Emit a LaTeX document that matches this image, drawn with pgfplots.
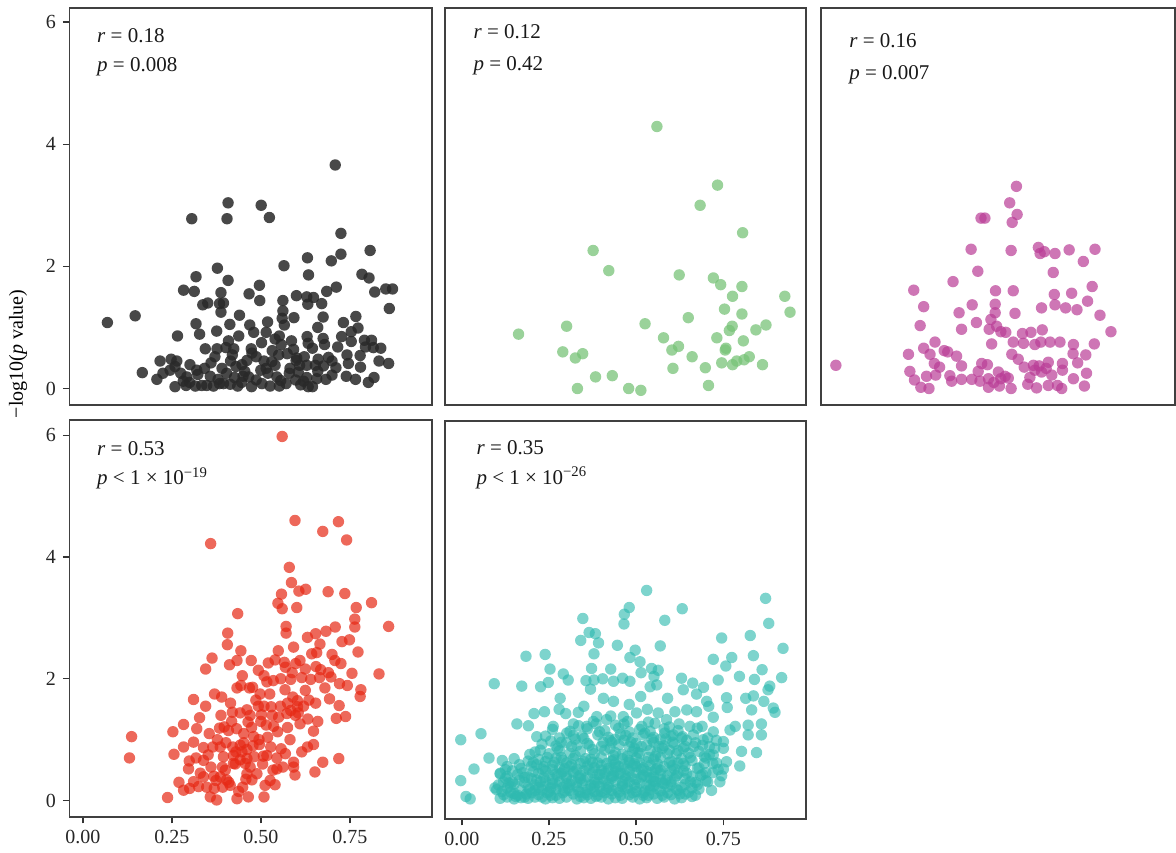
\documentclass[border=0pt]{standalone}
\usepackage{fontspec}
\setmainfont{Liberation Serif}
\usepackage{pgfplots}
\pgfplotsset{compat=1.18}
\definecolor{cBlack}{RGB}{40,40,40}
\definecolor{cGreen}{RGB}{120,195,120}
\definecolor{cMag}{RGB}{185,60,150}
\definecolor{cRed}{RGB}{230,40,20}
\definecolor{cTeal}{RGB}{45,185,175}
\tikzset{ann/.style={anchor=west, font=\fontsize{10.5}{12}\selectfont, text=black!90, inner sep=0pt}}
\pgfplotsset{
  panel/.style={
    scale only axis, anchor=south west,
    axis line style={draw=black!75, line width=0.8pt},
    tick style={draw=black!80, line width=0.7pt},
    tick align=outside, major tick length=3.2pt, tick pos=left,
    xtick=\empty, ytick=\empty,
    ymin=-0.27, ymax=6.23,
    /pgf/number format/assume math mode=true,
    ticklabel style={font=\fontsize{10}{12}\selectfont, text=black!85},
    clip=true,
  },
  dots/.style 2 args={only marks, mark=*, mark size=2.85pt, color=#1,
    mark options={draw opacity=0, fill=#1, fill opacity=#2}},
}
\begin{document}
\begin{tikzpicture}
\useasboundingbox (0,0) rectangle (588pt,426pt);
\node[rotate=90, font=\fontsize{10}{12}\selectfont] at (9pt,249pt) {\char"2212 log10(\textit{p} value)};

% Panel 1 (black)
\begin{axis}[panel, at={(34.65pt,223.5pt)}, width=181.2pt, height=198.5pt,
  xmin=-0.038, xmax=0.980, ytick={0,2,4,6}]
\addplot[dots={cBlack}{0.85}] coordinates {
(0.709,3.66)(0.408,3.04)(0.501,3.00)(0.306,2.78)(0.405,2.78)(0.524,2.80)(0.725,2.54)(0.807,2.26)(0.725,2.20)(0.698,2.09)
(0.631,2.14)(0.565,2.01)(0.378,1.97)(0.318,1.83)(0.408,1.77)(0.634,1.86)(0.784,1.87)(0.804,1.81)(0.496,1.69)(0.283,1.61)
(0.313,1.59)(0.712,1.66)(0.685,1.59)(0.820,1.58)(0.851,1.63)(0.870,1.63)(0.861,1.31)(0.069,1.08)(0.147,1.19)(0.388,1.57)
(0.467,1.55)(0.497,1.44)(0.337,1.37)(0.351,1.40)(0.384,1.39)(0.395,1.40)(0.388,1.25)(0.562,1.44)(0.600,1.52)(0.629,1.50)
(0.632,1.38)(0.648,1.49)(0.671,1.39)(0.562,1.27)(0.593,1.16)(0.675,1.17)(0.767,1.18)(0.732,1.08)(0.773,0.99)(0.754,0.93)
(0.660,1.00)(0.566,1.04)(0.519,1.09)(0.469,1.04)(0.413,1.05)(0.318,1.06)(0.328,0.89)(0.376,0.94)(0.266,0.86)(0.438,0.86)
(0.515,0.92)(0.540,0.81)(0.552,0.86)(0.586,0.78)(0.630,0.85)(0.675,0.82)(0.727,0.85)(0.754,0.77)(0.791,0.79)(0.811,0.79)
(0.409,0.78)(0.344,0.65)(0.377,0.65)(0.402,0.67)(0.424,0.65)(0.473,0.65)(0.502,0.75)(0.557,0.72)(0.633,0.74)(0.645,0.66)
(0.679,0.72)(0.794,0.68)(0.816,0.67)(0.837,0.66)(0.779,0.54)(0.690,0.51)(0.601,0.50)(0.574,0.57)(0.550,0.55)(0.475,0.58)
(0.371,0.52)(0.217,0.45)(0.248,0.48)(0.264,0.45)(0.301,0.39)(0.167,0.26)(0.208,0.15)(0.225,0.25)(0.245,0.30)(0.259,0.36)
(0.275,0.25)(0.259,0.03)(0.290,0.05)(0.292,0.19)(0.323,0.23)(0.342,0.33)(0.358,0.20)(0.334,0.05)(0.348,0.05)(0.384,0.08)
(0.395,0.08)(0.414,0.07)(0.435,0.04)(0.474,0.03)(0.503,0.08)(0.526,0.04)(0.552,0.04)(0.391,0.33)(0.404,0.25)(0.430,0.36)
(0.447,0.39)(0.461,0.46)(0.466,0.19)(0.509,0.45)(0.531,0.44)(0.515,0.33)(0.545,0.19)(0.556,0.13)(0.582,0.33)(0.599,0.46)
(0.609,0.38)(0.629,0.38)(0.653,0.38)(0.676,0.37)(0.711,0.34)(0.746,0.41)(0.832,0.45)(0.859,0.41)(0.598,0.14)(0.629,0.18)
(0.633,0.03)(0.645,0.03)(0.657,0.16)(0.683,0.15)(0.766,0.15)(0.802,0.10)(0.818,0.18)(0.316,0.04)(0.367,0.04)(0.426,0.18)
(0.455,0.28)(0.487,0.52)(0.532,0.62)(0.592,0.64)(0.605,0.27)(0.622,0.52)(0.700,0.22)(0.742,0.55)(0.360,0.42)(0.282,0.12)
(0.446,0.10)(0.487,0.14)(0.571,0.08)(0.612,0.06)(0.661,0.48)(0.716,0.68)(0.520,0.25)(0.415,0.45)
(0.30,0.10)(0.32,0.30)(0.38,0.15)(0.42,0.55)(0.45,0.20)(0.50,0.30)(0.54,0.38)(0.58,0.25)(0.62,0.12)(0.66,0.28)
(0.70,0.45)(0.74,0.20)(0.78,0.35)(0.48,0.92)(0.56,1.15)(0.44,1.20)
};
\node[ann] at (rel axis cs:0.076,0.931) {\textit{r} = 0.18};
\node[ann] at (rel axis cs:0.076,0.851) {\textit{p} = 0.008};
\end{axis}

% Panel 2 (green)
\begin{axis}[panel, at={(222.5pt,223.5pt)}, width=180.35pt, height=198.5pt,
  xmin=-0.049, xmax=0.986]
\addplot[dots={cGreen}{0.75}] coordinates {
(0.559,4.29)(0.733,3.33)(0.683,3.00)(0.805,2.55)(0.376,2.26)(0.421,1.93)(0.623,1.86)(0.721,1.81)(0.742,1.70)(0.803,1.67)
(0.776,1.51)(0.926,1.51)(0.753,1.30)(0.803,1.22)(0.941,1.25)(0.649,1.16)(0.525,1.06)(0.300,1.02)(0.162,0.89)(0.775,1.02)
(0.767,0.95)(0.872,1.04)(0.843,0.96)(0.578,0.83)(0.731,0.83)(0.807,0.78)(0.621,0.69)(0.602,0.63)(0.755,0.63)(0.289,0.60)
(0.325,0.50)(0.346,0.57)(0.660,0.52)(0.745,0.42)(0.776,0.39)(0.788,0.45)(0.809,0.47)(0.824,0.52)(0.862,0.39)(0.605,0.33)
(0.698,0.34)(0.383,0.19)(0.431,0.21)(0.707,0.05)(0.331,0.00)(0.478,0.00)(0.513,-0.03)(0.757,0.66)
};
\node[ann] at (rel axis cs:0.078,0.940) {\textit{r} = 0.12};
\node[ann] at (rel axis cs:0.078,0.855) {\textit{p} = 0.42};
\end{axis}

% Panel 3 (magenta)
\begin{axis}[panel, at={(410.5pt,223.5pt)}, width=177pt, height=198.5pt,
  xmin=0, xmax=1]
\addplot[dots={cMag}{0.7}] coordinates {
(0.552,3.31)(0.533,3.04)(0.554,2.85)(0.452,2.79)(0.463,2.79)(0.540,2.72)(0.424,2.28)(0.537,2.26)(0.614,2.31)(0.619,2.21)
(0.631,2.24)(0.661,2.21)(0.701,2.27)(0.774,2.28)(0.741,2.08)(0.443,1.92)(0.656,1.90)(0.373,1.75)(0.262,1.61)(0.493,1.60)
(0.543,1.60)(0.659,1.54)(0.708,1.56)(0.766,1.67)(0.753,1.43)(0.427,1.37)(0.492,1.38)(0.661,1.37)(0.691,1.32)(0.723,1.29)
(0.623,1.32)(0.290,1.34)(0.390,1.24)(0.492,1.24)(0.548,1.23)(0.788,1.20)(0.480,1.13)(0.439,1.08)(0.280,1.03)(0.397,0.97)
(0.475,0.97)(0.496,1.02)(0.508,0.93)(0.522,0.92)(0.569,0.90)(0.593,0.92)(0.625,0.96)(0.819,0.93)(0.322,0.76)(0.290,0.66)
(0.247,0.56)(0.308,0.56)(0.348,0.62)(0.358,0.60)(0.383,0.53)(0.482,0.73)(0.543,0.76)(0.572,0.74)(0.604,0.72)(0.621,0.76)
(0.647,0.76)(0.675,0.76)(0.713,0.72)(0.772,0.73)(0.712,0.57)(0.748,0.55)(0.539,0.56)(0.557,0.48)(0.042,0.38)(0.320,0.41)
(0.397,0.37)(0.454,0.41)(0.470,0.39)(0.574,0.35)(0.600,0.38)(0.616,0.37)(0.642,0.43)(0.682,0.41)(0.725,0.42)(0.251,0.28)
(0.298,0.20)(0.324,0.22)(0.364,0.21)(0.397,0.15)(0.444,0.28)(0.449,0.12)(0.473,0.16)(0.501,0.27)(0.508,0.16)(0.529,0.17)
(0.604,0.30)(0.623,0.27)(0.652,0.22)(0.682,0.30)(0.713,0.16)(0.750,0.25)(0.264,0.14)(0.282,0.02)(0.305,0.00)(0.369,0.12)
(0.473,0.02)(0.504,0.04)(0.537,0.00)(0.584,0.07)(0.609,0.01)(0.642,0.05)(0.668,0.05)(0.680,0.00)(0.744,0.04)(0.426,0.15)
(0.335,0.35)(0.520,0.20)(0.488,0.10)(0.590,0.18)(0.636,0.33)
};
\node[ann] at (rel axis cs:0.079,0.918) {\textit{r} = 0.16};
\node[ann] at (rel axis cs:0.079,0.832) {\textit{p} = 0.007};
\end{axis}

% Panel 4 (red)
\begin{axis}[panel, at={(34.65pt,17.5pt)}, width=181.2pt, height=198.5pt,
  xmin=-0.038, xmax=0.980, ymax=6.25, ytick={0,2,4,6},
  xtick={0,0.25,0.5,0.75}, xticklabels={0.00,0.25,0.50,0.75}]
\addplot[dots={cRed}{0.7}] coordinates {
(0.560,5.98)(0.359,4.22)(0.596,4.60)(0.718,4.58)(0.674,4.42)(0.741,4.28)(0.580,3.83)(0.586,3.58)(0.558,3.39)(0.607,3.44)
(0.626,3.47)(0.689,3.43)(0.736,3.40)(0.548,3.24)(0.560,3.15)(0.601,3.17)(0.768,3.17)(0.811,3.25)(0.435,3.07)(0.764,2.98)
(0.764,2.85)(0.859,2.86)(0.571,2.86)(0.571,2.75)(0.407,2.75)(0.709,2.85)(0.683,2.78)(0.654,2.74)(0.631,2.68)(0.666,2.57)
(0.728,2.61)(0.749,2.64)(0.406,2.56)(0.444,2.46)(0.549,2.46)(0.592,2.52)(0.363,2.34)(0.433,2.30)(0.473,2.30)(0.412,2.23)
(0.345,2.16)(0.521,2.26)(0.540,2.31)(0.566,2.27)(0.610,2.30)(0.643,2.41)(0.657,2.43)(0.708,2.30)(0.773,2.44)(0.569,2.19)
(0.625,2.16)(0.668,2.15)(0.493,2.14)(0.509,2.05)(0.517,1.95)(0.535,1.97)(0.556,2.00)(0.584,1.99)(0.615,2.02)(0.640,1.99)
(0.665,2.02)(0.697,2.03)(0.756,2.09)(0.832,2.08)(0.444,1.89)(0.433,1.85)(0.477,1.86)(0.498,1.75)(0.568,1.82)(0.625,1.81)
(0.721,1.92)(0.743,1.89)(0.781,1.82)(0.779,1.71)(0.370,1.75)(0.311,1.66)(0.415,1.60)(0.461,1.49)(0.493,1.55)(0.509,1.55)
(0.529,1.54)(0.603,1.64)(0.603,1.54)(0.584,1.48)(0.573,1.43)(0.654,1.60)(0.693,1.67)(0.720,1.56)(0.738,1.38)(0.420,1.45)
(0.442,1.44)(0.470,1.40)(0.502,1.41)(0.550,1.37)(0.597,1.40)(0.605,1.44)(0.632,1.34)(0.328,1.36)(0.388,1.40)(0.283,1.25)
(0.320,1.18)(0.384,1.19)(0.397,1.21)(0.409,1.15)(0.432,1.18)(0.464,1.29)(0.474,1.20)(0.515,1.24)(0.536,1.22)(0.547,1.13)
(0.610,1.26)(0.648,1.14)(0.253,1.13)(0.137,1.05)(0.131,0.70)(0.355,1.10)(0.311,0.96)(0.339,0.87)(0.283,0.88)(0.256,0.76)
(0.365,0.88)(0.386,0.88)(0.421,0.88)(0.442,0.91)(0.447,0.80)(0.461,0.84)(0.496,0.92)(0.519,1.04)(0.528,0.88)(0.557,0.85)
(0.631,0.88)(0.648,0.92)(0.395,0.72)(0.339,0.66)(0.299,0.65)(0.423,0.74)(0.442,0.67)(0.461,0.69)(0.507,0.73)(0.481,0.72)
(0.517,0.74)(0.569,0.77)(0.592,0.63)(0.674,0.63)(0.719,0.69)(0.297,0.52)(0.400,0.50)(0.423,0.61)(0.456,0.61)(0.461,0.44)
(0.489,0.44)(0.534,0.50)(0.545,0.52)(0.592,0.55)(0.596,0.42)(0.652,0.47)(0.526,0.33)(0.540,0.26)(0.475,0.34)(0.404,0.34)
(0.386,0.39)(0.374,0.33)(0.311,0.31)(0.339,0.39)(0.283,0.17)(0.325,0.23)(0.348,0.22)(0.358,0.06)(0.376,0.01)(0.369,0.20)
(0.393,0.22)(0.414,0.25)(0.449,0.22)(0.465,0.06)(0.433,0.03)(0.509,0.06)(0.238,0.05)(0.430,0.80)(0.452,0.95)(0.480,1.05)
(0.500,1.30)(0.575,1.60)(0.590,1.70)(0.360,0.55)(0.410,0.30)(0.470,0.55)
(0.330,0.45)(0.352,0.75)(0.378,1.00)(0.392,0.55)(0.418,1.30)(0.438,0.15)(0.452,1.10)(0.478,0.90)(0.486,1.65)(0.505,0.60)
(0.525,1.75)(0.545,0.70)(0.555,1.55)(0.575,1.20)(0.588,2.10)(0.615,0.80)(0.635,1.65)(0.655,2.20)(0.680,1.85)(0.700,2.40)
(0.712,1.35)(0.300,0.20)(0.318,0.70)(0.345,1.55)(0.368,0.40)(0.402,0.95)(0.428,0.60)(0.458,0.35)(0.468,1.85)(0.495,1.00)
(0.512,0.25)(0.532,1.40)(0.562,0.55)(0.582,1.00)(0.598,2.25)(0.620,1.55)(0.660,1.30)(0.690,2.10)(0.725,2.25)(0.270,0.30)
(0.448,2.05)(0.390,1.70)
};
\node[ann] at (rel axis cs:0.076,0.927) {\textit{r} = 0.53};
\node[ann] at (rel axis cs:0.076,0.853) {\textit{p} < 1 × 10\textsuperscript{\char"2212 19}};
\end{axis}

% Panel 5 (teal)
\begin{axis}[panel, at={(222.35pt,16.5pt)}, width=180.5pt, height=199pt,
  xmin=-0.049, xmax=0.986, ymin=-0.31, ymax=6.22,
  xtick={0,0.25,0.5,0.75}, xticklabels={0.00,0.25,0.50,0.75}]
\addplot[dots={cTeal}{0.62}] coordinates {
(0.530,3.44)(0.871,3.31)(0.632,3.14)(0.480,3.16)(0.466,3.05)(0.347,2.98)(0.465,2.89)(0.582,2.95)(0.880,2.90)(0.365,2.75)
(0.383,2.73)(0.341,2.62)(0.392,2.58)(0.446,2.54)(0.569,2.53)(0.745,2.66)(0.827,2.70)(0.921,2.49)(0.497,2.46)(0.379,2.40)
(0.482,2.34)(0.511,2.27)(0.184,2.36)(0.239,2.39)(0.721,2.31)(0.774,2.34)(0.836,2.37)(0.757,2.20)(0.253,2.15)(0.372,2.16)
(0.427,2.15)(0.544,2.16)(0.563,2.13)(0.861,2.14)(0.291,2.07)(0.461,2.00)(0.514,2.09)(0.796,2.03)(0.917,2.01)(0.093,1.91)
(0.172,1.87)(0.226,1.86)(0.248,1.93)(0.305,1.97)(0.356,1.96)(0.379,1.97)(0.404,1.99)(0.435,1.95)(0.482,1.95)(0.551,2.03)
(0.559,1.89)(0.630,2.00)(0.662,1.92)(0.693,1.85)(0.735,1.97)(0.839,1.98)(0.883,1.87)(0.878,1.81)(0.282,1.67)(0.369,1.82)
(0.406,1.67)(0.435,1.62)(0.480,1.57)(0.513,1.70)(0.540,1.86)(0.590,1.67)(0.635,1.81)(0.673,1.74)(0.702,1.62)(0.759,1.68)
(0.814,1.67)(0.836,1.71)(0.866,1.62)(0.893,1.51)(0.898,1.44)(0.207,1.42)(0.237,1.45)(0.279,1.49)(0.298,1.42)(0.334,1.44)
(0.350,1.54)(0.387,1.37)(0.427,1.38)(0.463,1.37)(0.501,1.43)(0.532,1.49)(0.563,1.43)(0.611,1.45)(0.645,1.48)(0.673,1.45)
(0.708,1.54)(0.721,1.36)(0.761,1.52)(0.831,1.48)(0.158,1.25)(0.191,1.22)(-0.003,0.99)(0.055,1.09)(0.078,0.69)(0.035,0.51)
(-0.003,0.32)(0.012,0.06)(0.024,0.02)(0.095,0.20)(0.116,0.65)(0.215,1.04)(0.262,1.21)(0.301,1.10)(0.320,1.25)(0.358,1.21)
(0.377,1.29)(0.415,1.32)(0.441,1.23)(0.475,1.29)(0.516,1.21)(0.554,1.26)(0.587,1.32)(0.623,1.25)(0.654,1.21)(0.689,1.21)
(0.721,1.12)(0.750,0.96)(0.769,1.15)(0.784,1.21)(0.821,1.23)(0.859,1.25)(0.821,1.07)(0.859,1.07)(0.845,0.78)(0.802,0.80)
(0.759,0.63)(0.797,0.56)(0.745,0.40)(0.716,0.16)(0.750,0.51)(0.730,0.61)(0.721,0.74)(0.710,0.88)(0.692,0.99)(0.664,1.07)
(0.633,1.04)(0.606,1.07)(0.582,1.10)(0.110,0.44)
(0.11,0.03)(0.13,0.05)(0.15,0.02)(0.17,0.04)(0.19,0.03)(0.21,0.05)(0.24,0.02)(0.26,0.04)(0.28,0.03)(0.30,0.05)
(0.33,0.02)(0.35,0.04)(0.37,0.03)(0.40,0.05)(0.42,0.02)(0.44,0.04)(0.46,0.03)(0.49,0.05)(0.51,0.02)(0.53,0.04)
(0.56,0.03)(0.58,0.05)(0.61,0.02)(0.63,0.04)(0.66,0.06)
(0.10,0.17)(0.14,0.13)(0.17,0.16)(0.20,0.12)(0.23,0.17)(0.25,0.14)(0.27,0.18)(0.29,0.12)(0.31,0.16)(0.34,0.13)
(0.36,0.17)(0.38,0.14)(0.41,0.12)(0.43,0.16)(0.45,0.13)(0.47,0.18)(0.50,0.14)(0.52,0.12)(0.54,0.17)(0.57,0.15)
(0.59,0.12)(0.62,0.16)(0.65,0.13)(0.68,0.18)
(0.12,0.30)(0.15,0.26)(0.18,0.29)(0.21,0.25)(0.24,0.31)(0.26,0.27)(0.28,0.30)(0.31,0.26)(0.33,0.29)(0.35,0.32)
(0.37,0.25)(0.39,0.29)(0.42,0.27)(0.44,0.31)(0.46,0.26)(0.48,0.30)(0.51,0.28)(0.53,0.25)(0.55,0.31)(0.58,0.27)
(0.60,0.30)(0.64,0.26)(0.67,0.29)(0.70,0.32)
(0.11,0.43)(0.13,0.39)(0.16,0.42)(0.19,0.38)(0.22,0.44)(0.25,0.40)(0.27,0.43)(0.30,0.39)(0.32,0.45)(0.34,0.41)
(0.36,0.38)(0.39,0.42)(0.41,0.44)(0.43,0.39)(0.45,0.43)(0.47,0.40)(0.50,0.45)(0.52,0.41)(0.55,0.38)(0.57,0.43)
(0.59,0.40)(0.62,0.44)(0.66,0.39)(0.69,0.42)(0.72,0.45)
(0.13,0.55)(0.17,0.52)(0.20,0.56)(0.23,0.51)(0.26,0.57)(0.28,0.53)(0.31,0.55)(0.33,0.51)(0.36,0.56)(0.38,0.53)
(0.40,0.57)(0.42,0.52)(0.45,0.55)(0.47,0.51)(0.49,0.56)(0.52,0.53)(0.54,0.57)(0.56,0.52)(0.58,0.55)(0.61,0.51)
(0.64,0.56)(0.68,0.53)
(0.15,0.68)(0.19,0.64)(0.22,0.67)(0.24,0.63)(0.27,0.69)(0.29,0.65)(0.32,0.68)(0.35,0.63)(0.37,0.67)(0.40,0.70)
(0.43,0.64)(0.46,0.68)(0.48,0.65)(0.50,0.69)(0.53,0.63)(0.55,0.67)(0.57,0.70)(0.60,0.64)(0.63,0.68)(0.66,0.65)
(0.70,0.69)
(0.21,0.79)(0.25,0.76)(0.28,0.81)(0.31,0.77)(0.34,0.80)(0.38,0.76)(0.41,0.82)(0.44,0.78)(0.46,0.75)(0.49,0.80)
(0.51,0.77)(0.54,0.82)(0.56,0.78)(0.59,0.76)(0.62,0.81)(0.65,0.77)(0.68,0.80)
(0.23,0.92)(0.27,0.89)(0.30,0.94)(0.33,0.90)(0.36,0.93)(0.40,0.88)(0.43,0.95)(0.45,0.91)(0.48,0.88)(0.50,0.93)
(0.53,0.90)(0.55,0.95)(0.58,0.89)(0.61,0.92)(0.64,0.88)(0.67,0.94)
(0.24,1.05)(0.28,1.02)(0.32,1.06)(0.35,1.01)(0.39,1.07)(0.42,1.03)(0.44,1.00)(0.47,1.06)(0.49,1.02)(0.52,1.07)
(0.55,1.03)(0.57,1.00)(0.60,1.05)(0.63,1.02)
(0.26,1.16)(0.31,1.13)(0.36,1.17)(0.41,1.14)(0.45,1.18)(0.48,1.12)(0.51,1.16)(0.54,1.13)(0.58,1.17)(0.62,1.14)
(0.12,0.09)(0.16,0.08)(0.22,0.09)(0.27,0.08)(0.32,0.10)(0.36,0.09)(0.39,0.08)(0.43,0.10)(0.48,0.09)(0.52,0.08)
(0.55,0.10)(0.60,0.09)(0.64,0.10)
(0.14,0.22)(0.19,0.21)(0.24,0.23)(0.29,0.21)(0.33,0.22)(0.38,0.23)(0.42,0.21)(0.46,0.22)(0.50,0.21)(0.55,0.23)
(0.59,0.22)(0.63,0.21)
(0.20,0.35)(0.26,0.34)(0.30,0.36)(0.34,0.35)(0.38,0.34)(0.43,0.36)(0.47,0.35)(0.50,0.34)(0.54,0.36)(0.57,0.34)
(0.61,0.35)
(0.24,0.48)(0.29,0.47)(0.35,0.48)(0.40,0.49)(0.44,0.47)(0.48,0.48)(0.53,0.47)(0.57,0.49)(0.60,0.48)
(0.30,0.61)(0.34,0.60)(0.39,0.61)(0.44,0.60)(0.51,0.61)(0.56,0.60)(0.62,0.61)
(0.66,0.20)(0.70,0.45)(0.72,0.60)(0.69,0.90)(0.73,0.98)(0.74,0.30)(0.71,0.75)(0.75,0.85)
(0.105,0.25)(0.125,0.36)(0.145,0.48)(0.165,0.33)(0.185,0.10)(0.205,0.47)(0.225,0.30)(0.245,0.12)(0.265,0.62)(0.285,0.44)
(0.305,0.20)(0.325,0.73)(0.345,0.28)(0.365,0.50)(0.385,0.06)(0.405,0.35)(0.425,0.85)(0.445,0.18)(0.465,0.58)(0.485,0.38)
(0.505,0.78)(0.525,0.15)(0.545,0.46)(0.565,0.88)(0.585,0.33)(0.605,0.57)(0.625,0.10)(0.645,0.44)
(0.215,0.58)(0.235,0.37)(0.255,0.20)(0.275,0.85)(0.295,0.52)(0.315,0.32)(0.335,0.15)(0.355,0.68)(0.375,0.45)(0.395,0.22)
(0.415,0.60)(0.435,0.40)(0.455,0.08)(0.475,0.72)(0.495,0.25)(0.515,0.50)(0.535,0.70)(0.555,0.30)(0.575,0.08)(0.595,0.82)
(0.615,0.40)(0.635,0.60)(0.655,0.30)(0.675,0.52)
(0.195,0.75)(0.225,0.82)(0.255,0.97)(0.285,0.70)(0.315,0.88)(0.345,1.05)(0.375,0.83)(0.405,0.95)(0.435,0.73)(0.465,0.98)
(0.495,0.85)(0.525,1.10)(0.555,0.72)(0.585,1.00)(0.615,0.76)(0.645,0.98)
(0.13,0.20)(0.15,0.11)(0.18,0.37)(0.21,0.16)(0.23,0.05)(0.27,0.26)(0.32,0.47)(0.37,0.19)(0.41,0.31)(0.44,0.54)
(0.49,0.12)(0.53,0.38)(0.56,0.19)(0.60,0.25)(0.64,0.35)(0.67,0.08)
(0.34,0.06)(0.38,0.29)(0.42,0.48)(0.46,0.31)(0.50,0.55)(0.54,0.24)(0.48,0.62)(0.40,0.14)(0.30,0.27)(0.26,0.50)
(0.22,0.21)(0.18,0.05)
(0.115,0.14)(0.135,0.28)(0.155,0.06)(0.175,0.45)(0.195,0.18)(0.215,0.33)(0.235,0.55)(0.255,0.08)(0.275,0.40)(0.295,0.15)
(0.315,0.58)(0.335,0.38)(0.355,0.12)(0.375,0.62)(0.395,0.42)(0.415,0.18)(0.435,0.66)(0.455,0.44)(0.475,0.20)(0.495,0.60)
(0.515,0.38)(0.535,0.08)(0.555,0.50)(0.575,0.28)(0.595,0.62)(0.615,0.18)(0.635,0.48)(0.655,0.70)(0.675,0.25)(0.695,0.60)
(0.285,0.95)(0.325,1.00)(0.365,0.90)(0.395,1.12)(0.425,0.98)(0.455,1.08)(0.485,0.95)(0.515,0.88)(0.545,1.00)(0.575,0.85)
(0.605,0.95)(0.635,0.85)(0.665,0.88)(0.695,0.72)(0.245,0.70)(0.205,0.62)(0.165,0.58)(0.145,0.30)(0.125,0.50)(0.335,1.22)
(0.385,1.25)(0.465,1.25)(0.535,1.28)(0.595,1.20)(0.675,1.18)(0.705,1.02)(0.725,0.85)(0.735,0.50)(0.705,0.30)(0.685,0.40)
};
\node[ann] at (rel axis cs:0.087,0.933) {\textit{r} = 0.35};
\node[ann] at (rel axis cs:0.087,0.857) {\textit{p} < 1 × 10\textsuperscript{\char"2212 26}};
\end{axis}
\end{tikzpicture}
\end{document}
